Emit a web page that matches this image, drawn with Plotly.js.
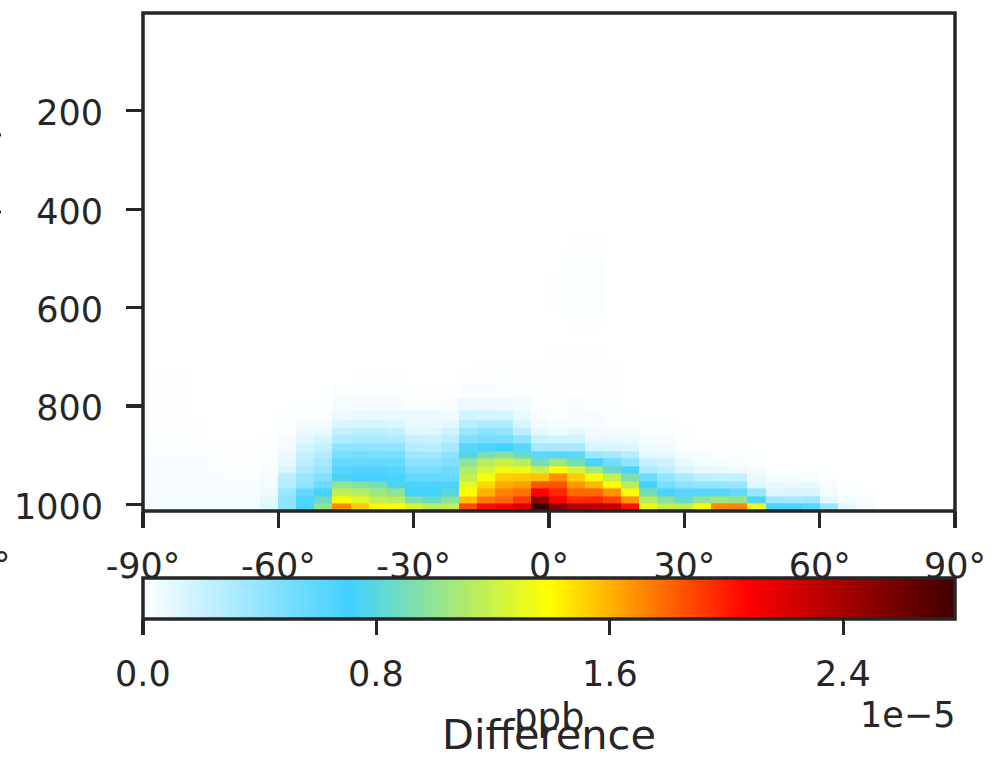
<!DOCTYPE html>
<html><head><meta charset="utf-8">
<script src="https://cdn.plot.ly/plotly-3.0.1.min.js"></script>
<style>html,body{margin:0;padding:0;background:#fff;overflow:hidden}</style></head>
<body><div id="chart" style="width:1001px;height:762px"></div>
<script>
const latEdges=[-90,-88,-84,-80,-76,-72,-68,-64,-60,-56,-52,-48,-44,-40,-36,-32,-28,-24,-20,-16,-12,-8,-4,0,4,8,12,16,20,24,28,32,36,40,44,48,52,56,60,64,68,72,76,80,84,88,90];
const presEdges=[1013.25,998.05,982.77,967.48,952.19,936.91,921.62,906.34,891.05,875.77,860.48,845.19,829.91,809.53,784.06,758.59,733.12,707.64,682.17,644.01,605.84,567.68,529.51,491.35,453.18,415.02,376.86,338.70,300.55];
const latTicks=[-90,-60,-30,0,30,60,90];
const latLabels=["-90°","-60°","-30°","0°","30°","60°","90°"];
const presTicks=[200,400,600,800,1000];
const cbTicks=[0,0.8,1.6,2.4];
const cbLabels=["0.0","0.8","1.6","2.4"];
// ppb difference, in units of 1e-5; one list per model level, bottom to top
const r00=[.05,.05,.05,.05,.05,.05,.05,.12,.42,.66, 1.0,1.7,1.53,1.40,1.39,1.25,1.14,1.18,1.87,2.04, 2.07,2.2,2.78,2.5,2.35,2.32,2.28,2.03,1.33,1.18, 1.16,1.37,1.7,1.72,1.34,.66,.66,.62,.37,.1, .05,.005,0,0,0,0];
const r01=[.04,.04,.04,.04,.04,.04,.04,.1,.42,.66, .87,1.37,1.28,1.17,1.14,.93,.86,.97,1.56,1.75, 1.8,1.92,2.45,2.07,1.95,1.97,1.9,1.68,1.13,.97, .85,1.0,1.05,1.02,.65,.36,.33,.36,.11,.04, .02,.005,0,0,0,0];
const r02=[.035,.035,.035,.035,.035,.035,.035,.07,.37,.58, .68,1.17,1.12,1.04,.99,.7,.7,.8,1.39,1.6, 1.72,1.77,2.07,1.97,1.79,1.79,1.68,1.37,.9,.68, .62,.62,.62,.57,.37,.12,.14,.14,.05,.02, .01,.003,0,0,0,0];
const r03=[.03,.03,.03,.03,.03,.03,.03,.05,.27,.42, .55,1.0,.95,.91,.76,.67,.67,.66,1.3,1.49, 1.62,1.65,1.84,1.86,1.67,1.58,1.39,1.13,.69,.5, .43,.4,.4,.37,.12,.09,.07,.09,.03,.01, .005,.002,0,0,0,0];
const r04=[.03,.03,.03,.03,.03,.02,.02,.04,.25,.37, .46,.75,.69,.69,.67,.57,.57,.57,1.17,1.36, 1.52,1.53,1.55,1.69,1.52,1.36,1.17,.93,.54,.4, .32,.25,.23,.22,.08,.04,.04,.03,.01,.005, .002,0,0,0,0,0];
const r05=[.03,.03,.03,.03,.02,.012,.012,.03,.14,.3, .38,.63,.65,.65,.63,.5,.5,.54,1.1,1.24, 1.34,1.33,1.2,1.39,1.24,1.07,.85,.67,.31,.24, .13,.09,.08,.06,.04,.01,.008,.006,.003,.002, 0,0,0,0,0,0];
const r06=[.025,.025,.025,.025,.015,.01,.01,.02,.1,.25, .33,.57,.57,.57,.57,.43,.42,.47,.98,1.13, 1.2,1.13,.9,1.05,.9,.67,.53,.4,.22,.18, .08,.05,.04,.03,.02,.005,.004,.003,.002,0, 0,0,0,0,0,0];
const r07=[.02,.02,.02,.015,.01,.008,.008,.015,.07,.22, .28,.5,.52,.5,.5,.36,.34,.42,.78,.9, .96,.85,.6,.63,.6,.37,.33,.27,.1,.09, .04,.03,.02,.02,.01,.003,.002,.002,.001,0, 0,0,0,0,0,0];
const r08=[.02,.02,.02,.012,.008,.006,.006,.01,.05,.17, .23,.42,.42,.42,.41,.27,.26,.33,.62,.66, .7,.62,.33,.33,.33,.16,.15,.13,.06,.05, .02,.01,.008,.006,.004,.002,.001,.001,0,0, 0,0,0,0,0,0];
const r09=[.015,.015,.012,.008,.005,.004,.004,.007,.04,.11, .15,.3,.32,.32,.3,.22,.2,.25,.47,.5, .5,.41,.2,.18,.18,.09,.08,.08,.04,.03, .01,.005,.004,.003,.002,.001,0,0,0,0, 0,0,0,0,0,0];
const r10=[.012,.012,.01,.006,.004,.002,.002,.004,.02,.07, .09,.22,.24,.24,.23,.12,.12,.18,.37,.44, .4,.26,.1,.06,.1,.05,.04,.04,.02,.015, .006,.003,.002,.002,.001,0,0,0,0,0, 0,0,0,0,0,0];
const r11=[.012,.012,.012,.006,.002,.001,.001,.002,.015,.04, .05,.14,.16,.16,.14,.08,.08,.11,.27,.3, .3,.15,.05,.03,.05,.03,.02,.02,.01,.008, .003,.002,.001,.001,0,0,0,0,0,0, 0,0,0,0,0,0];
const r12=[.01,.01,.01,.005,.002,.001,.001,.001,.01,.02, .02,.07,.08,.08,.08,.07,.07,.06,.18,.16, .16,.08,.03,.02,.04,.03,.02,.01,.005,.003, .002,.001,.001,0,0,0,0,0,0,0, 0,0,0,0,0,0];
const r13=[.01,.01,.01,.005,.002,.001,.001,.001,.005,.005, .005,.04,.04,.04,.04,.015,.015,.03,.07,.07, .06,.05,.02,.015,.03,.01,.008,.005,.003,.002, .001,0,0,0,0,0,0,0,0,0, 0,0,0,0,0,0];
const r14=[.009,.009,.009,.004,.001,.001,.001,.001,.002,.002, .004,.02,.02,.02,.02,.008,.01,.01,.025,.025, .02,.02,.005,.005,.012,.008,.005,.004,.002,.001, 0,0,0,0,0,0,0,0,0,0, 0,0,0,0,0,0];
const r15=[.006,.006,.006,.004,.001,0,0,0,.001,.001, .002,.005,.008,.008,.008,.004,.004,.004,.01,.012, .015,.012,.007,.006,.012,.009,.009,.004,.002,.001, 0,0,0,0,0,0,0,0,0,0, 0,0,0,0,0,0];
const r16=[.005,.005,.005,.004,.001,0,0,0,0,0, .001,.002,.003,.003,.002,.002,.002,.002,.004,.007, .007,.007,.007,.007,.012,.006,.006,.004,.001,0, 0,0,0,0,0,0,0,0,0,0, 0,0,0,0,0,0];
const r17=[.005,.005,.005,.003,0,0,0,0,0,0, 0,0,0,.001,.001,.001,.001,.001,.002,.003, .004,.004,.004,.006,.006,.006,.005,.003,.001,0, 0,0,0,0,0,0,0,0,0,0, 0,0,0,0,0,0];
const r18=[.004,.004,.004,.001,0,0,0,0,0,0, 0,0,0,0,0,0,0,0,.001,.001, .001,.002,.003,.004,.004,.004,.004,.003,.001,0, 0,0,0,0,0,0,0,0,0,0, 0,0,0,0,0,0];
const r19=[0,0,0,0,0,0,0,0,0,0, 0,0,0,0,0,0,0,0,0,.002, .002,.002,.003,.004,.012,.012,.004,.002,0,0, 0,0,0,0,0,0,0,0,0,0, 0,0,0,0,0,0];
const r20=[0,0,0,0,0,0,0,0,0,0, 0,0,0,0,0,0,0,0,0,0, .002,.004,.004,.007,.022,.022,.005,.003,0,0, 0,0,0,0,0,0,0,0,0,0, 0,0,0,0,0,0];
const r21=[0,0,0,0,0,0,0,0,0,0, 0,0,0,0,0,0,0,0,0,0, .002,.004,.004,.008,.02,.02,.005,.003,0,0, 0,0,0,0,0,0,0,0,0,0, 0,0,0,0,0,0];
const r22=[0,0,0,0,0,0,0,0,0,0, 0,0,0,0,0,0,0,0,0,0, 0,.003,.004,.004,.015,.015,.004,.002,0,0, 0,0,0,0,0,0,0,0,0,0, 0,0,0,0,0,0];
const r23=[0,0,0,0,0,0,0,0,0,0, 0,0,0,0,0,0,0,0,0,0, 0,0,.003,.004,.012,.012,.004,.002,0,0, 0,0,0,0,0,0,0,0,0,0, 0,0,0,0,0,0];
const r24=[0,0,0,0,0,0,0,0,0,0, 0,0,0,0,0,0,0,0,0,0, 0,0,.002,.003,.005,.005,.003,.002,0,0, 0,0,0,0,0,0,0,0,0,0, 0,0,0,0,0,0];
const r25=[0,0,0,0,0,0,0,0,0,0, 0,0,0,0,0,0,0,0,0,0, 0,0,0,.002,.003,.003,.002,.002,0,0, 0,0,0,0,0,0,0,0,0,0, 0,0,0,0,0,0];
const r26=[0,0,0,0,0,0,0,0,0,0, 0,0,0,0,0,0,0,0,0,0, 0,0,0,.002,.002,.002,.002,.002,.002,0, 0,0,0,0,0,0,0,0,0,0, 0,0,0,0,0,0];
const r27=[0,0,0,0,0,0,0,0,0,0, 0,0,0,0,0,0,0,0,0,0, 0,0,0,0,.002,.002,0,0,0,0, 0,0,0,0,0,0,0,0,0,0, 0,0,0,0,0,0];
const zRows=[r00,r01,r02,r03,r04,r05,r06,r07,r08,r09,r10,r11,r12,r13,r14,r15,r16,r17,r18,r19,r20,r21,r22,r23,r24,r25,r26,r27];
const zTop=2.783;
const ink='#262626', face='DejaVu Sans', tickSize=35;

const L=143,T=13,W=812,H=498;
const px=x=>(x-L)/W, py=y=>(T+H-y)/H;
const note=(text,x,y,size,xanchor,yanchor)=>({text,x,y:py(y),xref:'paper',yref:'paper',xanchor,yanchor,showarrow:false,
  font:{family:face,size,color:ink},borderpad:0,borderwidth:0});

const trace={type:'heatmap',x:latEdges,y:presEdges,z:zRows,zmin:0,zmax:zTop,zsmooth:false,hoverinfo:'skip',
  colorscale:[[0,'#ffffff'],[0.255,'#40d0ff'],[0.5,'#ffff00'],[0.745,'#ff0000'],[1,'#400000']],
  colorbar:{orientation:'h',x:0.5,xanchor:'center',xref:'paper',len:1,lenmode:'fraction',y:py(578),yanchor:'top',yref:'paper',
    thickness:41,thicknessmode:'pixels',xpad:0,ypad:0,outlinewidth:3.5,outlinecolor:ink,borderwidth:0,
    tickmode:'array',tickvals:cbTicks,ticktext:cbLabels,ticks:'outside',ticklen:15,tickwidth:3.2,tickcolor:ink,showticklabels:false}};

const cbNotes=cbTicks.map((v,i)=>note(cbLabels[i],v/zTop,673.5,tickSize,'center','middle'));

const layout={width:1001,height:762,autosize:false,margin:{l:L,r:1001-L-W,t:T,b:762-T-H,pad:0},
  paper_bgcolor:'#fff',plot_bgcolor:'#fff',showlegend:false,
  xaxis:{range:[-90,90],tickmode:'array',tickvals:latTicks,ticktext:latLabels,ticks:'outside',ticklen:16,tickwidth:3.2,tickcolor:ink,
    ticklabelstandoff:8,tickfont:{family:face,size:tickSize,color:ink},showline:false,showgrid:false,zeroline:false},
  yaxis:{range:[1013.25,1.1],tickmode:'array',tickvals:presTicks,ticks:'outside',ticklen:16,tickwidth:3.2,tickcolor:ink,
    ticklabelstandoff:16,ticklabelshift:-2,tickfont:{family:face,size:tickSize,color:ink},showline:false,showgrid:false,zeroline:false},
  annotations:[...cbNotes,note('1e−5',1,715,tickSize,'right','middle'),note('ppb',px(549),717.5,37,'center','middle'),
    note('Difference',px(549),734,41.5,'center','middle'),note('°',px(-7),565,tickSize,'left','middle')],
  shapes:[{type:'rect',xref:'paper',yref:'paper',x0:0,x1:1,y0:0,y1:1,layer:'above',fillcolor:'rgba(0,0,0,0)',line:{width:3.5,color:ink}},
    ...[135,212].map(y=>({type:'rect',xref:'paper',yref:'paper',x0:px(-1),x1:px(1),y0:py(y-1.5),y1:py(y+1.5),fillcolor:ink,line:{width:0}}))]};
Plotly.newPlot('chart',[trace],layout,{staticPlot:true,displayModeBar:false});
</script></body></html>
